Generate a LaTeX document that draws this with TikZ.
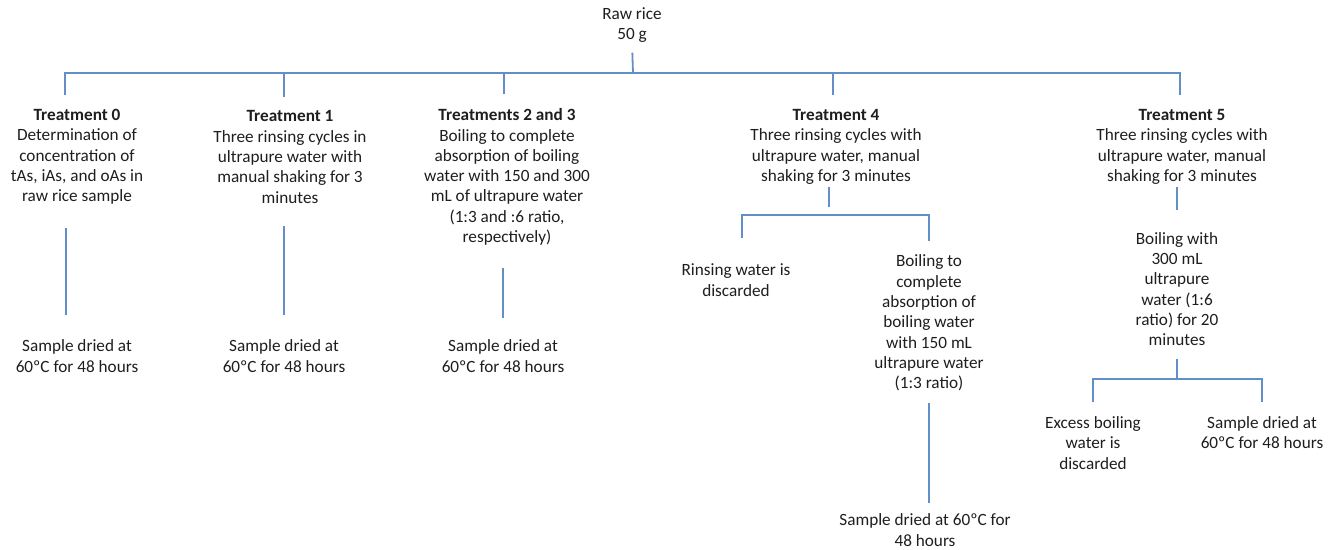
\documentclass[tikz,border=0pt]{standalone}
\usepackage{fontspec}
\setmainfont{Carlito}
\usepackage{tikz}
\usetikzlibrary{positioning}
\definecolor{linkblue}{RGB}{98,143,200}
\definecolor{txtgray}{RGB}{30,30,30}

\begin{document}
\begin{tikzpicture}[x=1pt, y=-1pt, txt/.style={align=center, inner sep=0pt, text=txtgray, font=\fontsize{17.2}{20.3}\selectfont}, link/.style={draw=linkblue, line width=1.8pt}]
\path[use as bounding box] (0,0) rectangle (1338,549);
\node[txt] (raw) at (632,25) {Raw rice\\50 g};
\node[txt] (T0) at (77,157) {\textbf{Treatment 0}\\Determination of\\concentration of\\tAs, iAs, and oAs in\\raw rice sample};
\node[txt] (T1) at (290,157) {\textbf{Treatment 1}\\Three rinsing cycles in\\ultrapure water with\\manual shaking for 3\\minutes};
\node[txt] (T23) at (507,177) {\textbf{Treatments 2 and 3}\\Boiling to complete\\absorption of boiling\\water with 150 and 300\\mL of ultrapure water\\(1:3 and :6 ratio,\\respectively)};
\node[txt] (T4) at (836,147) {\textbf{Treatment 4}\\Three rinsing cycles with\\ultrapure water, manual\\shaking for 3 minutes};
\node[txt] (T5) at (1182,147) {\textbf{Treatment 5}\\Three rinsing cycles with\\ultrapure water, manual\\shaking for 3 minutes};
\node[txt] (S0) at (77,356) {Sample dried at\\60ºC for 48 hours};
\node[txt] (S1) at (284,356) {Sample dried at\\60ºC for 48 hours};
\node[txt] (S23) at (503,356) {Sample dried at\\60ºC for 48 hours};
\node[txt] (rinse) at (736,280) {Rinsing water is\\discarded};
\node[txt] (boil4) at (929,323) {Boiling to\\complete\\absorption of\\boiling water\\with 150 mL\\ultrapure water\\(1:3 ratio)};
\node[txt] (S4) at (925,530) {Sample dried at 60ºC for\\48 hours};
\node[txt] (boil5) at (1177,289) {Boiling with\\300 mL\\ultrapure\\water (1:6\\ratio) for 20\\minutes};
\node[txt] (excess) at (1093,443) {Excess boiling\\water is\\discarded};
\node[txt] (S5) at (1262,432.5) {Sample dried at\\60ºC for 48 hours};
\coordinate (top) at (633,73);
\coordinate (split4) at (829,215);
\coordinate (split5) at (1177,379);
\draw[link, shorten <=10pt] (raw.south) -- (top);
\draw[link, shorten <=14pt] ([xshift=-12pt]T0.north) |- (top);
\draw[link, shorten <=14pt] ([xshift=-6pt]T1.north) |- (top);
\draw[link, shorten <=14pt] ([xshift=-3pt]T23.north) |- (top);
\draw[link, shorten <=14pt] ([xshift=-3pt]T4.north) |- (top);
\draw[link, shorten <=14pt] ([xshift=-2pt]T5.north) |- (top);
\draw[link, shorten <=23pt, shorten >=25pt] ([xshift=-11pt]T0.south) -- ([xshift=-11pt]S0.north);
\draw[link, shorten <=23pt, shorten >=25pt] (S1.north |- T1.south) -- (S1.north);
\draw[link, shorten <=22pt, shorten >=22pt] (S23.north |- T23.south) -- (S23.north);
\draw[link, shorten <=2pt, shorten >=8pt] (split4 |- T4.south) -- (split4);
\draw[link, shorten <=26pt, shorten >=14pt] ([xshift=6pt]rinse.north) |- (split4) -| (boil4.north);
\draw[link, shorten <=12pt, shorten >=11pt] (boil4.south) -- (boil4.south |- S4.north);
\draw[link, shorten <=2pt, shorten >=22pt] (boil5.north |- T5.south) -- (boil5.north);
\draw[link, shorten <=13pt] (boil5.south) -- (split5);
\draw[link, shorten <=14pt, shorten >=14pt] (excess.north) |- (split5) -| (S5.north);
\end{tikzpicture}
\end{document}
